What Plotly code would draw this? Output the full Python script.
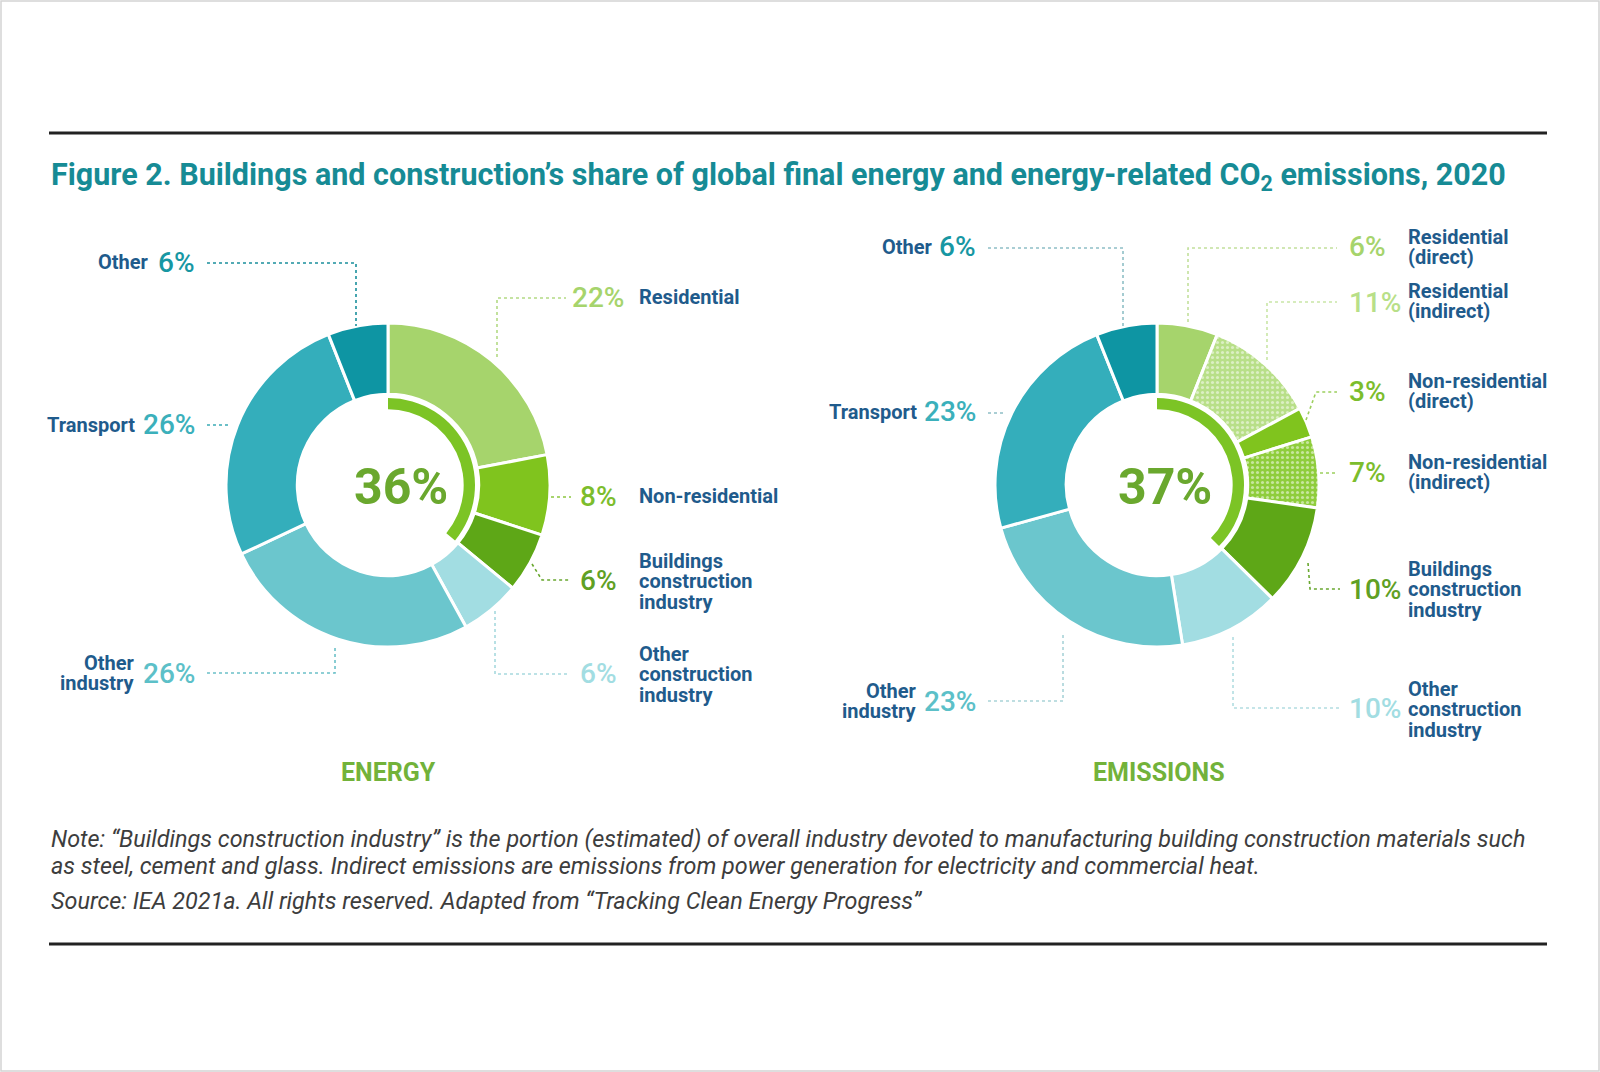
import plotly.graph_objects as go

W, H = 1600, 1072

# ---------------- data ----------------
energy_labels = ["Residential", "Non-residential", "Buildings construction industry",
                 "Other construction industry", "Other industry", "Transport", "Other"]
energy_values = [22, 8, 6, 6, 26, 26, 6]
energy_buildings = ["Residential", "Non-residential", "Buildings construction industry"]

emis_labels = ["Residential (direct)", "Residential (indirect)", "Non-residential (direct)",
               "Non-residential (indirect)", "Buildings construction industry",
               "Other construction industry", "Other industry", "Transport", "Other"]
emis_values = [6, 11, 3, 7, 10, 10, 23, 23, 6]
emis_buildings = ["Residential (direct)", "Residential (indirect)", "Non-residential (direct)",
                  "Non-residential (indirect)", "Buildings construction industry"]

title_text = "Figure 2. Buildings and construction\u2019s share of global final energy and energy-related CO<sub>2</sub> emissions, 2020"
note_line1 = "Note: \u201cBuildings construction industry\u201d is the portion (estimated) of overall industry devoted to manufacturing building construction materials such"
note_line2 = "as steel, cement and glass. Indirect emissions are emissions from power generation for electricity and commercial heat."
source_text = "Source: IEA 2021a. All rights reserved. Adapted from \u201cTracking Clean Energy Progress\u201d"

# ---------------- styles ----------------
C_RES = "#a6d46c"
C_RES_IND = "#b8df88"
C_NONRES = "#80c41e"
C_NONRES_IND = "#8fcd3c"
C_BCI = "#5ea717"
C_OCI = "#a2dde2"
C_OIND = "#6bc6cd"
C_TRANS = "#34aebb"
C_OTHER = "#0e95a3"
C_ARC = "#7cc425"
NAVY = "#1f5b8c"
TEAL_TITLE = "#168b95"
GREEN_TXT = "#6aa82e"

energy_colors = [C_RES, C_NONRES, C_BCI, C_OCI, C_OIND, C_TRANS, C_OTHER]
emis_colors = [C_RES, C_RES_IND, C_NONRES, C_NONRES_IND, C_BCI, C_OCI, C_OIND, C_TRANS, C_OTHER]
emis_shapes = ["", ".", "", ".", "", "", "", "", ""]

FONT = "Roboto"


def dom(cx, cy, r):
    return dict(x=[(cx - r) / W, (cx + r) / W], y=[1 - (cy + r) / H, 1 - (cy - r) / H])


def px(x):
    return x / W


def py(y):
    return 1 - y / H


E_C = (388, 485)
M_C = (1157, 485)
R_OUT = 162
HOLE = 0.56
R_ARC = 87
ARC_HOLE = 0.87

fig = go.Figure()

# Energy donut
fig.add_trace(go.Pie(
    labels=energy_labels, values=energy_values, sort=False, direction="clockwise", rotation=0,
    hole=HOLE, domain=dom(*E_C, R_OUT), textinfo="none", showlegend=False,
    marker=dict(colors=energy_colors, line=dict(color="white", width=3)),
    hoverinfo="label+value"))
e_b = sum(v for l, v in zip(energy_labels, energy_values) if l in energy_buildings)
e_total = sum(energy_values)
fig.add_trace(go.Pie(
    labels=["Buildings", "rest"], values=[e_b, e_total - e_b], sort=False, direction="clockwise",
    rotation=0, hole=ARC_HOLE, domain=dom(*E_C, R_ARC), textinfo="none", showlegend=False,
    marker=dict(colors=[C_ARC, "rgba(0,0,0,0)"], line=dict(width=0)), hoverinfo="skip"))

# Emissions donut
fig.add_trace(go.Pie(
    labels=emis_labels, values=emis_values, sort=False, direction="clockwise", rotation=0,
    hole=HOLE, domain=dom(*M_C, R_OUT), textinfo="none", showlegend=False,
    marker=dict(colors=emis_colors, line=dict(color="white", width=3),
                pattern=dict(shape=emis_shapes, fillmode="overlay", fgcolor="white",
                             size=5, solidity=0.3)),
    hoverinfo="label+value"))
m_b = sum(v for l, v in zip(emis_labels, emis_values) if l in emis_buildings)
m_total = sum(emis_values)
fig.add_trace(go.Pie(
    labels=["Buildings", "rest"], values=[m_b, m_total - m_b], sort=False, direction="clockwise",
    rotation=0, hole=ARC_HOLE, domain=dom(*M_C, R_ARC), textinfo="none", showlegend=False,
    marker=dict(colors=[C_ARC, "rgba(0,0,0,0)"], line=dict(width=0)), hoverinfo="skip"))

shapes = []
annotations = []


def hline(x0, x1, y, color="#222222", width=3):
    shapes.append(dict(type="line", xref="paper", yref="paper", x0=px(x0), x1=px(x1),
                       y0=py(y), y1=py(y), line=dict(color=color, width=width)))


def leader(points, color):
    d = "M " + " L ".join(f"{px(x):.5f},{py(y):.5f}" for x, y in points)
    shapes.append(dict(type="path", xref="paper", yref="paper", path=d,
                       line=dict(color=color, width=1.6, dash="dot")))


def text(x, y, s, size, color, xanchor="left", bold=False, italic=False, weight=None):
    f = dict(family=FONT, size=size, color=color)
    if bold:
        f["weight"] = "bold"
    if weight:
        f["weight"] = weight
    if italic:
        f["style"] = "italic"
    annotations.append(dict(x=px(x), y=py(y), xref="paper", yref="paper", text=s, showarrow=False,
                            xanchor=xanchor, yanchor="middle", font=f,
                            align="center" if xanchor == "center" else xanchor))


LBL = 20
PCT = 28
LSTEP = 20.5


def label(x, yc, lines, xanchor="left"):
    n = len(lines)
    for i, ln in enumerate(lines):
        text(x, yc + (i - (n - 1) / 2) * LSTEP, f"<b>{ln}</b>", LBL, NAVY, xanchor=xanchor)


# rules and frame
hline(49, 1547, 133)
hline(49, 1547, 944)
shapes.append(dict(type="rect", xref="paper", yref="paper", x0=px(1), x1=px(1599), y0=py(1), y1=py(1071),
                   line=dict(color="#d4d4d4", width=1.5)))

# title
text(49, 176, "<b>" + title_text + "</b>", 30.5, TEAL_TITLE)

# Center values
text(401, 487, f"<b>{e_b}%</b>", 50, GREEN_TXT, xanchor="center")
text(1165, 487, f"<b>{m_b}%</b>", 50, GREEN_TXT, xanchor="center")
text(388, 772, "<b>ENERGY</b>", 25, "#72b23a", xanchor="center")
text(1159, 772, "<b>EMISSIONS</b>", 25, "#72b23a", xanchor="center")

# ---- Energy labels ----
ev = dict(zip(energy_labels, energy_values))
leader([(207, 263), (356, 263), (356, 326)], "#1a8f9c")
text(197, 262, f"{ev['Other']}%", PCT, "#1797a3", xanchor="right", weight=500)
label(151, 262, ["Other"], xanchor="right")

leader([(207, 425), (228, 425)], "#3aaab5")
text(197, 425, f"{ev['Transport']}%", PCT, "#3bb0bb", xanchor="right", weight=500)
label(137, 425, ["Transport"], xanchor="right")

leader([(207, 673), (335, 673), (335, 646)], "#6bc0c8")
text(197, 673, f"{ev['Other industry']}%", PCT, "#5cc0c8", xanchor="right", weight=500)
label(137, 673, ["Other", "industry"], xanchor="right")

leader([(497, 357), (497, 298), (566, 298)], "#b3da84")
text(598, 297, f"{ev['Residential']}%", PCT, C_RES, xanchor="center", weight=500)
label(637, 297, ["Residential"])

leader([(551, 497), (571, 497)], "#8cc63f")
text(598, 496, f"{ev['Non-residential']}%", PCT, "#7cbd2c", xanchor="center", weight=500)
label(637, 496, ["Non-residential"])

leader([(532, 564), (542, 580), (571, 580)], "#6aa830")
text(598, 580, f"{ev['Buildings construction industry']}%", PCT, "#5fa024", xanchor="center", weight=500)
label(637, 581, ["Buildings", "construction", "industry"])

leader([(495, 611), (495, 674), (570, 674)], "#a6d9de")
text(598, 673, f"{ev['Other construction industry']}%", PCT, C_OCI, xanchor="center", weight=500)
label(637, 674, ["Other", "construction", "industry"])

# ---- Emissions labels ----
mv = dict(zip(emis_labels, emis_values))
leader([(988, 248), (1123, 248), (1123, 327)], "#8fbfc6")
text(978, 247, f"{mv['Other']}%", PCT, "#1797a3", xanchor="right", weight=500)
label(935, 247, ["Other"], xanchor="right")

leader([(988, 413), (1005, 413)], "#8fbfc6")
text(978, 412, f"{mv['Transport']}%", PCT, "#3bb0bb", xanchor="right", weight=500)
label(919, 412, ["Transport"], xanchor="right")

leader([(988, 701), (1063, 701), (1063, 632)], "#a9d3d8")
text(978, 701, f"{mv['Other industry']}%", PCT, "#5cc0c8", xanchor="right", weight=500)
label(919, 701, ["Other", "industry"], xanchor="right")

RP = 1347
RL = 1406
leader([(1188, 322), (1188, 248), (1337, 248)], "#c2e09c")
text(RP, 247, f"{mv['Residential (direct)']}%", PCT, C_RES, weight=500)
label(RL, 247, ["Residential", "(direct)"])

leader([(1267, 360), (1267, 302), (1337, 302)], "#c9e6a6")
text(RP, 302, f"{mv['Residential (indirect)']}%", PCT, C_RES_IND, weight=500)
label(RL, 301, ["Residential", "(indirect)"])

leader([(1306, 420), (1316, 392), (1337, 392)], "#9ccf5e")
text(RP, 391, f"{mv['Non-residential (direct)']}%", PCT, "#7cbd2c", weight=500)
label(RL, 391, ["Non-residential", "(direct)"])

leader([(1320, 473), (1337, 473)], "#9ccf5e")
text(RP, 472, f"{mv['Non-residential (indirect)']}%", PCT, "#7cbd2c", weight=500)
label(RL, 472, ["Non-residential", "(indirect)"])

leader([(1308, 563), (1310, 589), (1340, 589)], "#6aa830")
text(RP, 589, f"{mv['Buildings construction industry']}%", PCT, "#5fa024", weight=500)
label(RL, 589, ["Buildings", "construction", "industry"])

leader([(1233, 637), (1233, 708), (1340, 708)], "#b2dde1")
text(RP, 708, f"{mv['Other construction industry']}%", PCT, C_OCI, weight=500)
label(RL, 709, ["Other", "construction", "industry"])

# notes
text(49, 839, note_line1, 23.4, "#3d3d3d", italic=True)
text(49, 866, note_line2, 23.4, "#3d3d3d", italic=True)
text(49, 901, source_text, 23.4, "#3d3d3d", italic=True)

fig.update_layout(
    width=W, height=H, margin=dict(l=0, r=0, t=0, b=0),
    paper_bgcolor="white", plot_bgcolor="white",
    shapes=shapes, annotations=annotations,
    font=dict(family=FONT),
)

fig.write_html("out.html")
